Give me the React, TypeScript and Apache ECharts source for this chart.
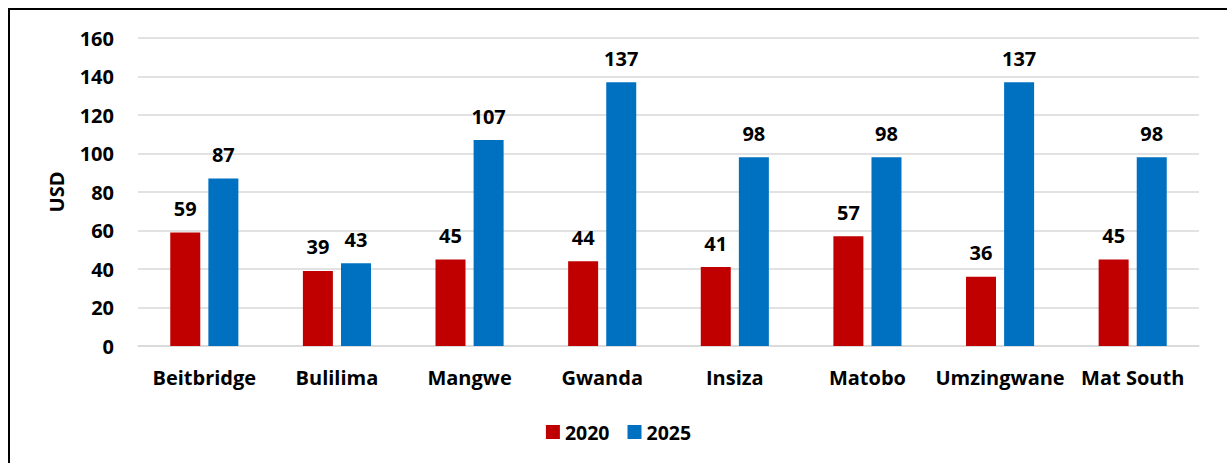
import React, { useEffect, useRef } from "react";
import * as echarts from "echarts";

const categories = ["Beitbridge", "Bulilima", "Mangwe", "Gwanda", "Insiza", "Matobo", "Umzingwane", "Mat South"];
const values2020 = [59, 39, 45, 44, 41, 57, 36, 45];
const values2025 = [87, 43, 107, 137, 98, 98, 137, 98];
const seriesNames = ["2020", "2025"];
const yTicks = { min: 0, max: 160, interval: 20 };

const FONT = "'Open Sans', sans-serif";
const FS = 20;

export default function App() {
  const ref = useRef<HTMLDivElement>(null);
  useEffect(() => {
    if (!ref.current) return;
    const chart = echarts.init(ref.current, undefined, { renderer: "svg" });
    const label = {
      show: true,
      position: "top",
      distance: 14,
      color: "#000",
      fontFamily: FONT,
      fontWeight: "bold",
      fontSize: FS,
    };
    chart.setOption({
      animation: false,
      textStyle: { fontFamily: FONT },
      grid: { left: 128, top: 28, width: 1061, height: 308, containLabel: false },
      legend: {
        data: seriesNames,
        bottom: 16,
        left: "center",
        itemWidth: 14,
        itemHeight: 14,
        itemGap: 18,
        icon: "rect",
        textStyle: { fontFamily: FONT, fontWeight: "bold", fontSize: 19.5, color: "#000" },
      },
      xAxis: {
        type: "category",
        data: categories,
        axisLine: { lineStyle: { color: "#d9d9d9", width: 1.5 } },
        axisTick: { show: false },
        axisLabel: { interval: 0, color: "#000", fontFamily: FONT, fontWeight: "bold", fontSize: FS, margin: 21 },
      },
      yAxis: {
        type: "value",
        min: yTicks.min,
        max: yTicks.max,
        interval: yTicks.interval,
        name: "USD",
        nameLocation: "middle",
        nameGap: 72,
        nameTextStyle: { color: "#000", fontFamily: FONT, fontWeight: "bold", fontSize: FS },
        axisLine: { show: false },
        axisTick: { show: false },
        axisLabel: { color: "#000", fontFamily: FONT, fontWeight: "bold", fontSize: FS, margin: 24 },
        splitLine: { lineStyle: { color: "#d9d9d9", width: 1.5 } },
      },
      series: [
        {
          name: seriesNames[0],
          type: "bar",
          data: values2020,
          barWidth: 30,
          barGap: "27%",
          itemStyle: { color: "#C00000" },
          label,
        },
        {
          name: seriesNames[1],
          type: "bar",
          data: values2025,
          barWidth: 30,
          itemStyle: { color: "#0070C0" },
          label,
        },
      ],
    });
    return () => chart.dispose();
  }, []);
  return (
    <div
      style={{
        position: "fixed",
        left: 8,
        top: 8,
        width: 1240,
        height: 470,
        borderLeft: "2px solid #000",
        borderTop: "2px solid #000",
        background: "#fff",
      }}
    >
      <div ref={ref} style={{ width: 1217, height: 453 }} />
    </div>
  );
}
